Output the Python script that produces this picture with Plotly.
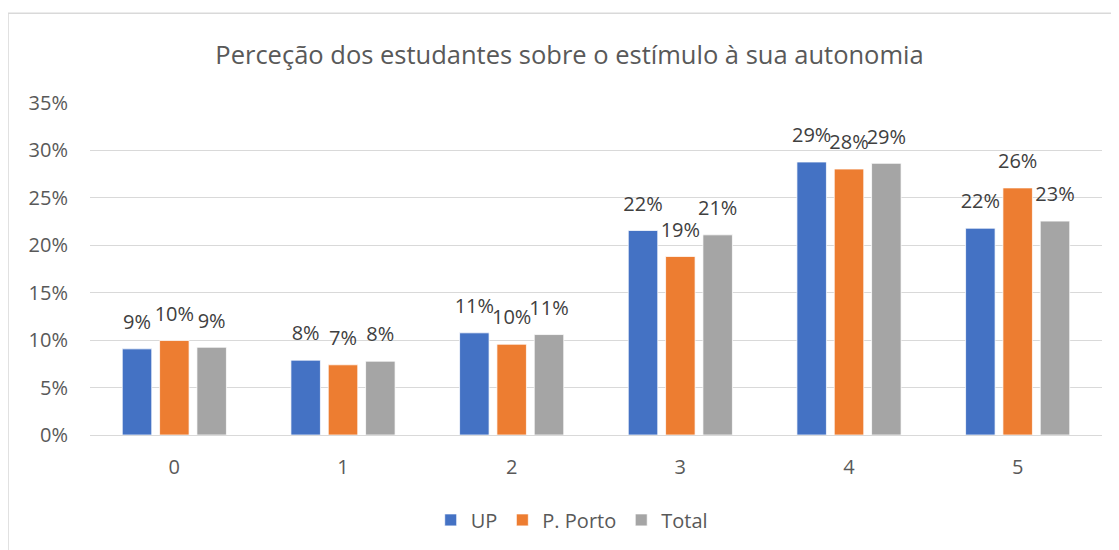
import plotly.graph_objects as go

categories = ["0", "1", "2", "3", "4", "5"]
series_names = ["UP", "P. Porto", "Total"]
up = [0.0908, 0.0789, 0.1077, 0.2156, 0.2878, 0.2180]
porto = [0.0996, 0.0740, 0.0957, 0.1882, 0.2804, 0.2605]
total = [0.0925, 0.0778, 0.1059, 0.2110, 0.2864, 0.2255]
colors = ["#4472C4", "#ED7D31", "#A5A5A5"]
title = "Perceção dos estudantes sobre o estímulo à sua autonomia"

FONT = "Open Sans"
TXT = "#595959"

fig = go.Figure()
for i, (name, vals) in enumerate(zip(series_names, [up, porto, total])):
    fig.add_trace(go.Bar(
        x=categories, y=vals, name=name, offsetgroup=str(i),
        marker=dict(color=colors[i], line=dict(color="white", width=0.75)),
        hoverinfo="skip",
    ))
for i, (name, vals) in enumerate(zip(series_names, [up, porto, total])):
    fig.add_trace(go.Scatter(
        x=categories, y=vals, offsetgroup=str(i), mode="markers+text",
        text=[f"{round(v*100):d}%" for v in vals], textposition="top center",
        textfont=dict(family=FONT, size=20, color="#404040"),
        marker=dict(size=22, opacity=0), showlegend=False, hoverinfo="skip",
        cliponaxis=False,
    ))

fig.update_layout(
    width=1111, height=542,
    margin=dict(l=82, r=17, t=95, b=114),
    paper_bgcolor="white", plot_bgcolor="white",
    barmode="group", bargap=0.336, bargroupgap=0.21,
    scattermode="group", scattergap=0.336,
    font=dict(family=FONT, color=TXT),
    title=dict(text=title, x=0.5054, xref="container", xanchor="center",
               y=0.913, yref="container", yanchor="middle",
               font=dict(family=FONT, size=25.5, color=TXT)),
    showlegend=True,
    legend=dict(orientation="h", x=0.476, xanchor="center", y=-0.252, yanchor="middle",
                font=dict(family=FONT, size=20, color=TXT), itemwidth=30,
                traceorder="normal"),
    xaxis=dict(showgrid=False, showline=False, zeroline=False,
               tickfont=dict(family=FONT, size=20, color=TXT),
               ticklabelstandoff=18, fixedrange=True),
    yaxis=dict(range=[0, 0.35], dtick=0.05, tickformat=".0%",
               showgrid=True, gridcolor="#D9D9D9", gridwidth=1,
               zeroline=True, zerolinecolor="#D9D9D9", zerolinewidth=1,
               showline=False,
               tickfont=dict(family=FONT, size=20, color=TXT),
               ticklabelstandoff=21, fixedrange=True),
    shapes=[dict(type="rect", xref="paper", yref="paper",
                 x0=-0.081, x1=1.03, y0=-0.40, y1=1.270,
                 line=dict(color="#D9D9D9", width=1.5), fillcolor="rgba(0,0,0,0)",
                 layer="below")],
)

fig.write_html("out.html")
